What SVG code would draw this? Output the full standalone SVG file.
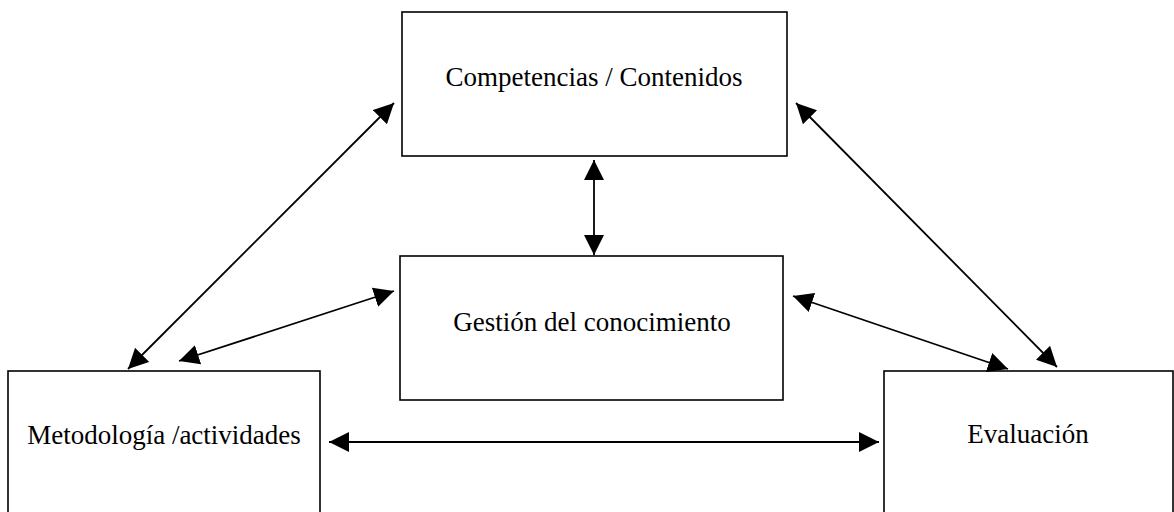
<svg xmlns="http://www.w3.org/2000/svg" width="1174" height="512" viewBox="0 0 1174 512">
  <style>
    .box { fill: #ffffff; stroke: #000000; stroke-width: 1.6; }
    .lbl { font-family: "Liberation Serif", "Times New Roman", serif; font-size: 27px; fill: #000000; text-anchor: middle; }
    .conn { fill: none; stroke: #000000; stroke-width: 1.8; marker-start: url(#ah); marker-end: url(#ah); }
  </style>
  <defs>
    <marker id="ah" markerUnits="userSpaceOnUse" markerWidth="20" markerHeight="20" refX="20" refY="10" orient="auto-start-reverse" viewBox="0 0 20 20">
      <path d="M0,0 L20,10 L0,20 z" fill="#000000"/>
    </marker>
  </defs>
  <rect width="1174" height="512" fill="#ffffff"/>
  <g id="competencias">
    <rect class="box" x="402" y="12" width="385" height="144"/>
    <text class="lbl" x="594" y="86">Competencias / Contenidos</text>
  </g>
  <g id="gestion">
    <rect class="box" x="400" y="256" width="383" height="144"/>
    <text class="lbl" x="592" y="331">Gestión del conocimiento</text>
  </g>
  <g id="metodologia">
    <rect class="box" x="8" y="371" width="312" height="160"/>
    <text class="lbl" x="164" y="444">Metodología /actividades</text>
  </g>
  <g id="evaluacion">
    <rect class="box" x="884" y="371" width="289" height="160"/>
    <text class="lbl" x="1028" y="443">Evaluación</text>
  </g>
  <g id="connectors">
    <line class="conn" x1="128" y1="369" x2="394" y2="103"/>
    <line class="conn" x1="796" y1="103" x2="1057" y2="367"/>
    <line class="conn" x1="594" y1="160" x2="594" y2="255"/>
    <line class="conn" x1="179" y1="361" x2="394" y2="291"/>
    <line class="conn" x1="793" y1="296" x2="1008" y2="369"/>
    <line class="conn" x1="329" y1="442" x2="879" y2="442"/>
  </g>
</svg>
